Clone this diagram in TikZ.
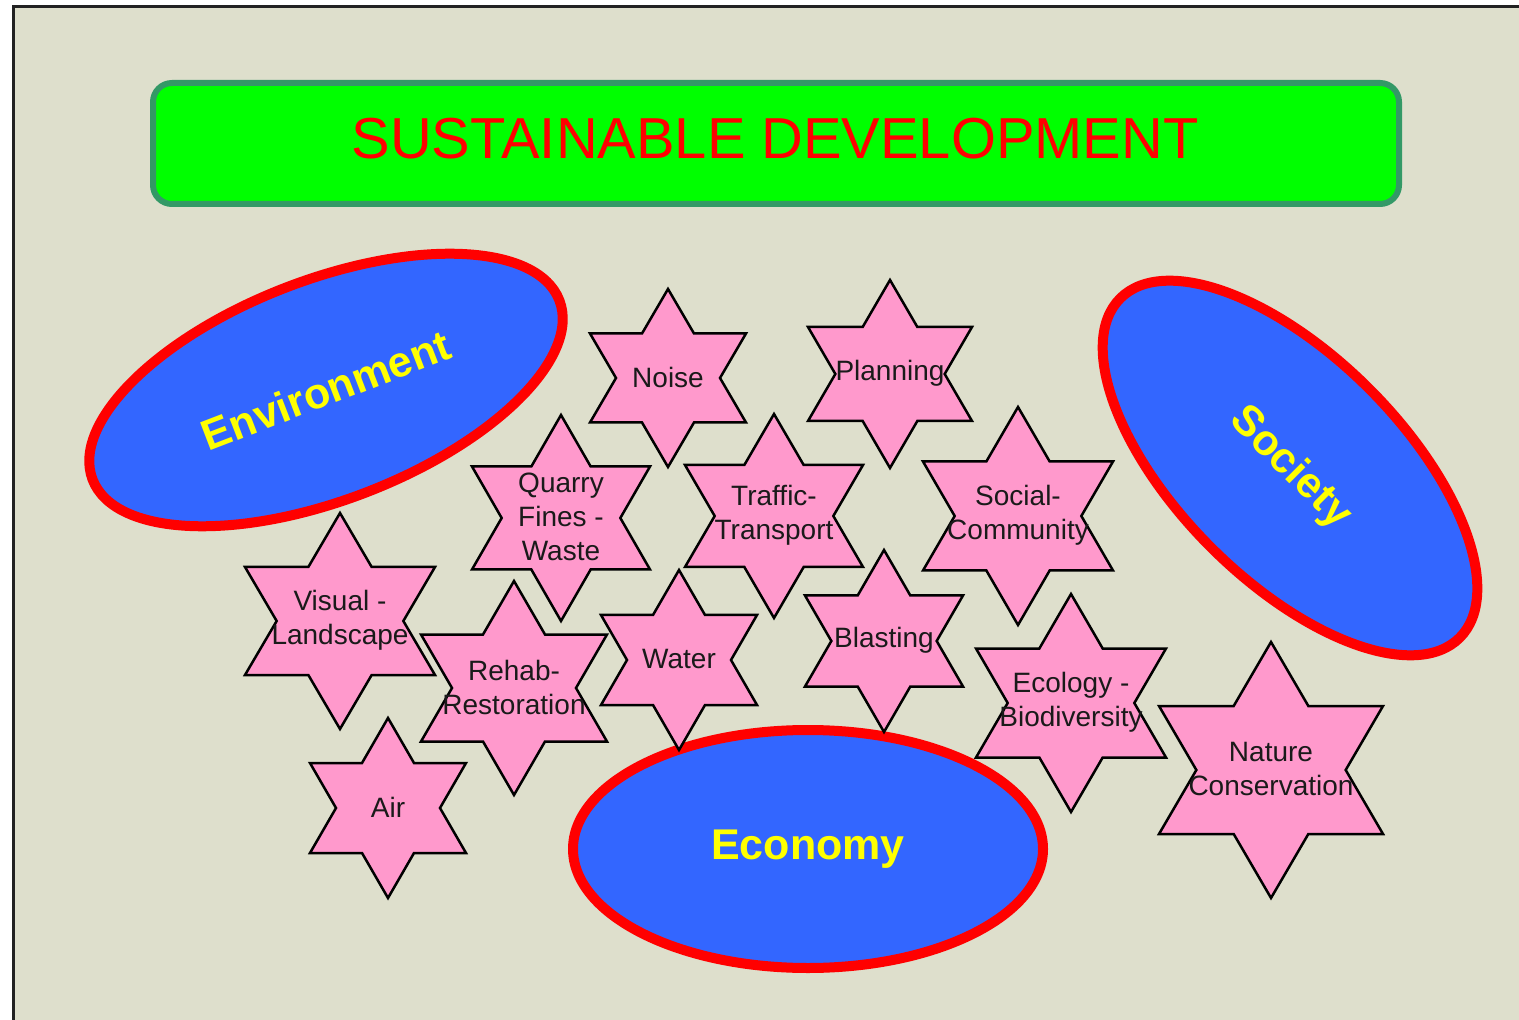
\documentclass[tikz,border=0pt]{standalone}
\usepackage{fontspec}
\setmainfont{Liberation Sans}
\usetikzlibrary{shapes.geometric}
\definecolor{bgc}{HTML}{DEDFCC}
\definecolor{framec}{HTML}{222222}
\definecolor{titlefill}{HTML}{00FF00}
\definecolor{titleline}{HTML}{339966}
\definecolor{pillarblue}{HTML}{3366FF}
\definecolor{pillarred}{HTML}{FF0000}
\definecolor{pillartext}{HTML}{FFFF00}
\definecolor{starpink}{HTML}{FF99CC}
\definecolor{startxt}{HTML}{1A1A1A}
\tikzset{
  titlebox/.style={draw=titleline, fill=titlefill, line width=3pt, rounded corners=9.5pt,
    minimum width=623pt, minimum height=60.5pt, inner sep=0pt},
  titletext/.style={text=red, font=\fontsize{28.9}{32}\selectfont, inner sep=0pt},
  pillar/.style={ellipse, draw=pillarred, fill=pillarblue, line width=5pt, inner sep=0pt,
    text=pillartext, font=\bfseries\fontsize{21.5}{25}\selectfont},
  starshape/.style={draw=black, fill=starpink, line width=1.25pt, line join=miter},
  startext/.style={text=startxt, align=center, inner sep=0pt, font=\fontsize{14}{17}\selectfont},
}
\newcommand{\hexstar}[6]{%
  \draw[starshape] ({#2},{#3-#5}) -- ({#2+#4/3},{#3-#5/2}) -- ({#2+#4},{#3-#5/2})
    -- ({#2+2*#4/3},{#3}) -- ({#2+#4},{#3+#5/2}) -- ({#2+#4/3},{#3+#5/2})
    -- ({#2},{#3+#5}) -- ({#2-#4/3},{#3+#5/2}) -- ({#2-#4},{#3+#5/2})
    -- ({#2-2*#4/3},{#3}) -- ({#2-#4},{#3-#5/2}) -- ({#2-#4/3},{#3-#5/2}) -- cycle;
  \node[startext] (#1) at (#2,{#3-1}) {#6};
}
\begin{document}
\begin{tikzpicture}[x=0.5pt,y=-0.5pt]
\clip (0,0) rectangle (1519,1020);
\fill[white] (0,0) rectangle (1519,1020);
\draw[draw=framec, line width=1.5pt, fill=bgc] (13,7) rectangle (1600,1100);

% title
\node[titlebox] (titlebg) at (776,143.5) {};
\node[titletext] (titletxt) at (775,139) {SUSTAINABLE DEVELOPMENT};

% pillars
\node[pillar, minimum width=250pt, minimum height=110pt, rotate=21] (env) at (326,390) {Environment};
\node[pillar, minimum width=240pt, minimum height=112pt, rotate=-45] (soc) at (1290,468) {Society};
\node[pillar, minimum width=235pt, minimum height=119pt] (eco) at (808,849) {Economy};

% stars
\hexstar{noise}{668}{378}{78}{89}{Noise}
\hexstar{planning}{890}{374}{82}{94}{Planning}
\hexstar{social}{1018}{516}{95}{109}{Social-\\Community}
\hexstar{quarry}{561}{518}{89}{103}{Quarry\\Fines -\\Waste}
\hexstar{traffic}{774}{516}{89}{102}{Traffic-\\Transport}
\hexstar{visual}{340}{621}{95}{108}{Visual -\\Landscape}
\hexstar{rehab}{514}{688}{93}{107}{Rehab-\\Restoration}
\hexstar{water}{679}{660}{78}{90}{Water}
\hexstar{blasting}{884}{641}{79}{91}{Blasting}
\hexstar{ecology}{1071}{703}{95}{109}{Ecology -\\Biodiversity}
\hexstar{nature}{1271}{770}{112}{128}{Nature\\Conservation}
\hexstar{air}{388}{808}{78}{90}{Air}
\end{tikzpicture}
\end{document}
